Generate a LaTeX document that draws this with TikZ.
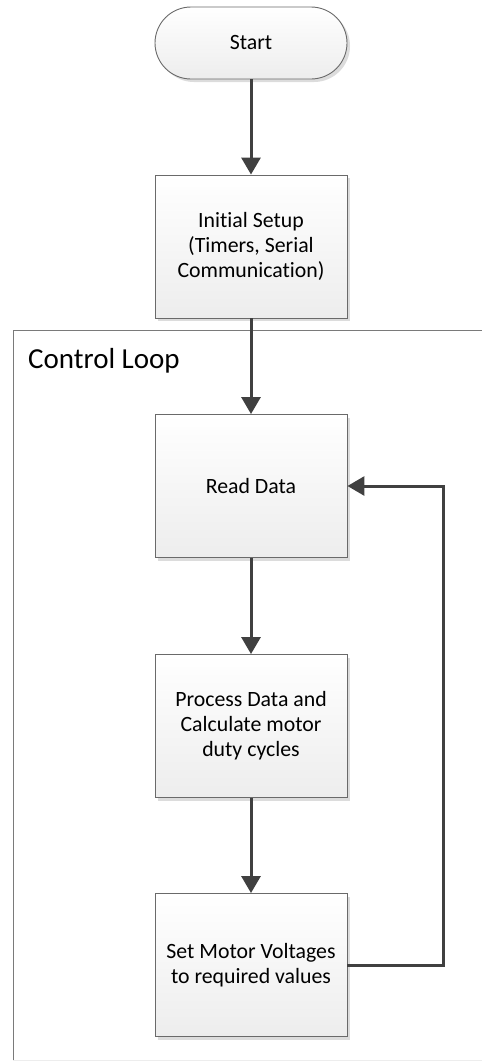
\documentclass[tikz,border=0pt]{standalone}
\usepackage{fontspec}
\setmainfont{Carlito}[Ligatures=NoCommon]
\usepackage{tikz}
\usetikzlibrary{arrows.meta,shadows}
\definecolor{edge}{HTML}{404040}
\definecolor{rim}{HTML}{6A6A6A}
\definecolor{fade}{HTML}{EDEDED}
\definecolor{shade}{HTML}{DCDCDC}
\definecolor{frame}{HTML}{7A7A7A}
\tikzset{
  stepbox/.style={draw=rim, line width=0.9pt, top color=white, bottom color=fade,
    minimum width=192pt, minimum height=143pt, align=center, inner sep=0pt,
    font=\fontsize{21.8}{25}\selectfont,
    drop shadow={shadow xshift=3pt, shadow yshift=-3pt, fill=shade, opacity=1}},
  termbox/.style={stepbox, minimum height=72pt, rounded corners=36pt},
  flow/.style={draw=edge, line width=3pt, -{Triangle[length=17pt,width=19pt]}},
  loopframe/.style={draw=frame, line width=0.9pt},
  looplab/.style={font=\fontsize{29}{34}\selectfont, text=black},
}
\begin{document}
\begin{tikzpicture}[x=1pt, y=-1pt]
  \useasboundingbox (0,0) rectangle (482,1061);
  % control loop container
  \draw[loopframe] (13,1061) -- (13,330) -- (482,330);
  \draw[draw=fade, line width=1pt] (13,1060) -- (482,1060);
  \node[looplab, anchor=base west, inner sep=0pt] (loopname) at (28,368) {Control Loop};
  % steps
  \node[termbox] (start) at (251,43) {Start};
  \node[stepbox] (setup) at (251,246.5) {Initial Setup\\(Timers, Serial\\Communication)};
  \node[stepbox] (read) at (251,486) {Read Data};
  \node[stepbox] (calc) at (251,726) {Process Data and\\Calculate motor\\duty cycles};
  \node[stepbox] (motor) at (251,965) {Set Motor Voltages\\to required values};
  \coordinate (turn) at (443,965);
  % connectors
  \draw[flow] (start) -- (setup);
  \draw[flow] (setup) -- (read);
  \draw[flow] (read) -- (calc);
  \draw[flow] (calc) -- (motor);
  \draw[flow] (motor.east) -- (turn) |- (read.east);
\end{tikzpicture}
\end{document}
